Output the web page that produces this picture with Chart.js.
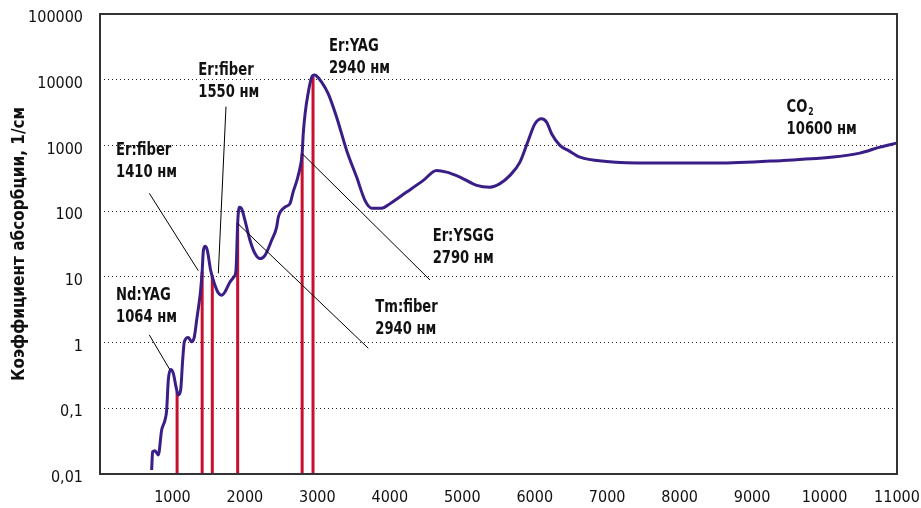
<!DOCTYPE html>
<html>
<head>
<meta charset="utf-8">
<script src="https://cdn.jsdelivr.net/npm/chart.js@4/dist/chart.umd.min.js"></script>
<style>
  html, body { margin: 0; padding: 0; background: #fff; }
  #wrap { width: 921px; height: 508px; position: relative; }
</style>
</head>
<body>
<div id="wrap"><canvas id="c" width="921" height="508"></canvas></div>
<script>
// Water absorption spectrum: wavelength (nm) vs absorption coefficient (1/cm)
const wavelengthNm = [
  713, 726, 759, 805, 851, 897, 920, 943, 975, 1012, 1049, 1081, 1113, 1141, 1164,
  1219, 1265, 1302, 1334, 1389, 1410, 1425, 1449, 1481, 1527, 1587, 1633, 1679, 1725,
  1794, 1849, 1877, 1900, 1922, 1955, 2001, 2070, 2139, 2208, 2277, 2369, 2438, 2461,
  2553, 2622, 2668, 2720, 2765, 2790, 2805, 2830, 2870, 2921, 2960, 2981, 3059, 3151,
  3266, 3404, 3542, 3657, 3749, 3887, 4002, 4232, 4462, 4646, 4784, 4968, 5198, 5382,
  5520, 5658, 5796, 5911, 6003, 6095, 6164, 6233, 6348, 6463, 6624, 6992, 7590, 8510,
  9430, 10120, 10488, 10764, 10994
];
const absorptionCoef = [
  0.0115, 0.0218, 0.0226, 0.0195, 0.0466, 0.066, 0.094, 0.27, 0.39, 0.34, 0.212, 0.159, 0.189, 0.54, 1.03,
  1.19, 1.03, 1.22, 2.19, 6.3, 12, 24, 29.2, 25.4, 12.6, 7.45, 5.69, 5.25, 5.9,
  8.35, 10, 12.6, 65, 115, 109, 72.5, 36, 22.6, 19, 21.3, 36, 57.3, 81,
  115, 130, 200, 300, 480, 750, 1500, 3000, 6000, 10900, 11800, 11600, 9200, 6100,
  2690, 840, 330, 146, 111, 111, 130, 195, 294, 417, 393, 330, 247, 232,
  262, 350, 557, 1190, 2137, 2545, 2260, 1507, 1000, 840, 664, 571, 538, 538,
  592, 664, 764, 942, 1084
];

// Laser emission lines (drawn from the axis floor up to the curve)
const laserLineNm  = [1064, 1410, 1550, 1900, 2790, 2940];
const laserLineTop = [0.18, 12, 10.5, 65, 750, 11200];

// Laser captions
const laserNames  = ['Nd:YAG', 'Er:fiber', 'Er:fiber', 'Tm:fiber', 'Er:YSGG', 'Er:YAG', 'CO₂'];
const laserLabels = ['1064 нм', '1410 нм', '1550 нм', '2940 нм', '2790 нм', '2940 нм', '10600 нм'];

// Axis ticks
const xTickValues = [1000, 2000, 3000, 4000, 5000, 6000, 7000, 8000, 9000, 10000, 11000];
const yTickValues = [0.01, 0.1, 1, 10, 100, 1000, 10000, 100000];
const yTickLabels = ['0,01', '0,1', '1', '10', '100', '1000', '10000', '100000'];

const FONT = '"DejaVu Sans Condensed", "Liberation Sans Narrow", "Liberation Sans", sans-serif';
const CURVE_COLOR = '#3a1e87';
const LASER_COLOR = '#c8102e';
const Y_FLOOR = 0.01;

const curveData = wavelengthNm.map((x, i) => ({ x, y: absorptionCoef[i] }));

const laserSets = laserLineNm.map((nm, i) => ({
  data: [{ x: nm, y: Y_FLOOR }, { x: nm, y: laserLineTop[i] }],
  borderColor: LASER_COLOR,
  borderWidth: 3,
  pointRadius: 0,
  tension: 0,
  order: 1
}));

// Caption anchors (wavelength, coefficient) and leader lines, in data units
const overlayOptions = {
  labels: [
    [221, 5.12], [221, 824], [1357, 13600], [3799, 3.36],
    [4591, 40.9], [3160, 31900], [9476, 3720]
  ],
  leaders: [
    [[680, 1.31], [966, 0.383]],
    [[680, 187], [1357, 12.4]],
    [[1739, 3900], [1633, 11.3]],
    [[1900, 65], [3703, 0.818]],
    [[2790, 750], [4554, 8.97]]
  ]
};

// Draws bold condensed caption text; "₂" becomes a lowered small digit
function drawRich(ctx, text, x, y, size, squeeze) {
  ctx.save();
  ctx.translate(x, y);
  ctx.scale(squeeze, 1);
  let cx = 0;
  for (const part of text.split(/(₂)/)) {
    if (!part) continue;
    if (part === '₂') {
      ctx.font = `bold ${Math.round(size * 0.6)}px ${FONT}`;
      ctx.fillText('2', cx + 1, size * 0.25);
      cx += ctx.measureText('2').width + 1;
    } else {
      ctx.font = `bold ${size}px ${FONT}`;
      ctx.fillText(part, cx, 0);
      cx += ctx.measureText(part).width;
    }
  }
  ctx.restore();
}

const overlay = {
  id: 'overlay',
  afterDatasetsDraw(chart, args, opts) {
    const { ctx, chartArea: a, scales: { x, y } } = chart;
    ctx.save();
    ctx.strokeStyle = '#000';
    ctx.lineWidth = 1;
    opts.leaders.forEach(([p, q]) => {
      ctx.beginPath();
      ctx.moveTo(x.getPixelForValue(p[0]), y.getPixelForValue(p[1]));
      ctx.lineTo(x.getPixelForValue(q[0]), y.getPixelForValue(q[1]));
      ctx.stroke();
    });
    ctx.fillStyle = '#111';
    ctx.textBaseline = 'middle';
    ctx.textAlign = 'left';
    const size = 17;
    opts.labels.forEach(([nm, v], i) => {
      const px = x.getPixelForValue(nm);
      const py = y.getPixelForValue(v);
      drawRich(ctx, laserNames[i], px, py, size, 0.86);
      drawRich(ctx, laserLabels[i], px, py + 21.5, size, 0.86);
    });
    ctx.strokeStyle = '#333';
    ctx.lineWidth = 2;
    ctx.strokeRect(a.left, a.top, a.right - a.left, a.bottom - a.top);
    ctx.restore();
  }
};

new Chart(document.getElementById('c'), {
  type: 'line',
  data: {
    datasets: [
      {
        data: curveData,
        borderColor: CURVE_COLOR,
        borderWidth: 3,
        pointRadius: 0,
        cubicInterpolationMode: 'monotone',
        fill: false,
        order: 0
      },
      ...laserSets
    ]
  },
  options: {
    responsive: false,
    animation: false,
    layout: { padding: { top: 14, right: 24, left: 0, bottom: 0 } },
    plugins: {
      legend: { display: false },
      tooltip: { enabled: false },
      overlay: overlayOptions
    },
    scales: {
      x: {
        type: 'linear',
        min: 0,
        max: 11000,
        afterBuildTicks: s => { s.ticks = xTickValues.map(v => ({ value: v })); },
        afterFit: s => { s.height = 34; s.paddingLeft = 0; s.paddingRight = 0; },
        ticks: {
          autoSkip: false,
          maxRotation: 0,
          padding: 14,
          color: '#111',
          font: { family: FONT, size: 16 },
          callback: v => String(v)
        },
        grid: { display: false, drawTicks: false },
        border: { display: false }
      },
      y: {
        type: 'logarithmic',
        min: 0.01,
        max: 100000,
        afterBuildTicks: s => { s.ticks = yTickValues.map(v => ({ value: v })); },
        afterFit: s => { s.width = 100; s.paddingTop = 0; s.paddingBottom = 0; },
        ticks: {
          padding: 17,
          labelOffset: 4,
          color: '#111',
          font: { family: FONT, size: 16 },
          callback: (v, i) => yTickLabels[i]
        },
        grid: { color: '#222', lineWidth: 1, drawTicks: false },
        border: { display: false, dash: [1, 3] },
        title: {
          display: true,
          text: 'Коэффициент абсорбции, 1/см',
          color: '#111',
          font: { family: FONT, size: 17, weight: 'bold' },
          padding: { top: 9, bottom: 0 }
        }
      }
    }
  },
  plugins: [overlay]
});
</script>
</body>
</html>
